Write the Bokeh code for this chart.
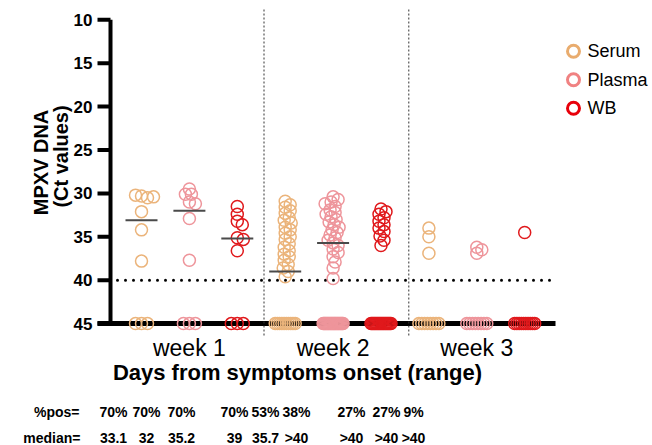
import math
from bokeh.plotting import figure
from bokeh.models import Range1d
from bokeh.core.properties import value
from bokeh.embed import file_html
from bokeh.resources import INLINE

# ---------------- data ----------------
groups = ["week 1", "week 2", "week 3"]
sample_types = ["Serum", "Plasma", "WB"]

serum_w1 = [30.3, 30.5, 30.2, 30.4, 32.1, 34.2, 37.8, 45, 45, 45]
plasma_w1 = [29.5, 30.1, 30.1, 31.0, 31.2, 32.9, 37.7, 45, 45, 45]
wb_w1 = [31.5, 32.4, 33.2, 33.6, 35.1, 35.3, 36.6, 45, 45, 45]

serum_w2 = [30.9, 31.3, 31.6, 32.0, 32.3, 32.8, 33.1, 33.4, 33.9, 34.2, 34.6, 35.0,
            35.3, 35.8, 36.2, 36.6, 37.0, 37.3, 37.7, 38.2, 38.6, 39.0, 39.6,
            45, 45, 45, 45, 45, 45, 45, 45, 45, 45]
plasma_w2 = [30.4, 30.7, 31.0, 31.2, 31.5, 31.9, 32.2, 32.4, 32.7, 33.0, 33.3, 33.6,
             33.9, 34.2, 34.5, 34.8, 35.1, 35.4, 35.7, 36.0, 36.4, 36.8, 37.3, 37.9,
             38.6, 39.8,
             45, 45, 45, 45, 45, 45, 45, 45, 45, 45, 45, 45, 45, 45, 45, 45, 45, 45,
             45, 45, 45, 45, 45]
wb_w2 = [31.8, 32.1, 32.4, 32.8, 33.2, 33.6, 34.0, 34.4, 34.9, 35.4, 36.0,
         45, 45, 45, 45, 45, 45, 45, 45, 45, 45, 45, 45, 45, 45, 45, 45, 45, 45]

serum_w3 = [34.0, 35.0, 36.9, 45, 45, 45, 45, 45, 45, 45, 45]
plasma_w3 = [36.2, 36.5, 36.9, 45, 45, 45, 45, 45, 45, 45, 45]
wb_w3 = [34.5, 45, 45, 45, 45, 45, 45, 45, 45, 45, 45]

series = [serum_w1, plasma_w1, wb_w1, serum_w2, plasma_w2, wb_w2, serum_w3, plasma_w3, wb_w3]

medians = [33.1, 32, 35.2, 39, 35.7, None, None, None, None]
pos_labels = ["70%", "70%", "70%", "70%", "53%", "38%", "27%", "27%", "9%"]
median_labels = ["33.1", "32", "35.2", "39", "35.7", ">40", ">40", ">40", ">40"]

y_ticks = [10, 15, 20, 25, 30, 35, 40, 45]
detection_limit = 40

colors = {"Serum": "#EBB47B", "Plasma": "#EE959B", "WB": "#E0191C"}
leg_colors = ["#E9AC6E", "#F08282", "#E8000B"]

# ---------------- geometry (page pixels) ----------------
W, H = 652, 445
PX = 47.9          # px per category step
PY = 8.68          # px per Ct unit
X0_PX = 141        # page px of category 0
Y10_PX = 19.3      # page px of Ct = 10


def px_x(real_px):
    return (real_px - X0_PX) / PX


def px_y(real_py):
    return 10 + (real_py - Y10_PX) / PY


p = figure(width=W, height=H, output_backend="svg", toolbar_location=None,
           x_axis_location=None, y_axis_location=None, tools="",
           x_range=Range1d(px_x(0), px_x(W)), y_range=Range1d(px_y(H), px_y(0)),
           min_border=0)
p.grid.visible = False
p.outline_line_color = None
p.background_fill_color = "white"
p.border_fill_color = "white"

FONT = value("Liberation Sans")

# y axis: line, ticks, labels
ax_x = px_x(110)
p.segment(x0=[ax_x], y0=[10], x1=[ax_x], y1=[45], line_color="black", line_width=4)
p.segment(x0=[px_x(97)] * len(y_ticks), y0=y_ticks, x1=[ax_x] * len(y_ticks), y1=y_ticks,
          line_color="black", line_width=4)
p.text(x=[px_x(92)] * len(y_ticks), y=y_ticks, text=[str(t) for t in y_ticks],
       text_font=FONT, text_font_style="bold", text_font_size="17px",
       text_align="right", text_baseline="middle", text_color="black")
p.text(x=[px_x(40), px_x(60)], y=[px_y(162), px_y(156)], text=["MPXV DNA", "(Ct values)"],
       angle=math.pi / 2, text_font=FONT, text_font_style="bold", text_font_size="20px",
       text_align="center", text_baseline="middle", text_color="black")

# x axis line
p.segment(x0=[px_x(97)], y0=[45], x1=[px_x(555)], y1=[45], line_color="black", line_width=5)

# detection limit dotted line
p.segment(x0=[px_x(117)], y0=[detection_limit], x1=[px_x(553)], y1=[detection_limit],
          line_color="black", line_width=3, line_dash="0 8", line_cap="round")

# group dividers
for dx in [263.5, 408.3]:
    p.segment(x0=[px_x(dx)], y0=[px_y(9)], x1=[px_x(dx)], y1=[px_y(337)], line_color="#333333",
              line_width=1, line_dash="2 2")


def swarm(vals, xc):
    D = 5.5
    placed = []
    xs = []
    n = sum(1 for v in vals if v >= 45)
    w = min(6 * (n - 1), 20) if n > 1 else 0
    ni = 0
    for v in vals:
        if v >= 45:
            off = -w / 2 + (w * ni / (n - 1) if n > 1 else 0)
            ni += 1
            xs.append(xc + off / PX)
            continue
        yp = v * PY
        chosen = 0
        for k in range(0, 200):
            c = (k + 1) // 2 * (1 if k % 2 == 1 else -1)
            if all((c - a) ** 2 + (yp - b) ** 2 >= D * D for a, b in placed):
                chosen = c
                break
        placed.append((chosen, yp))
        xs.append(xc + chosen / PX)
    return xs


for i, vals in enumerate(series):
    st = sample_types[i % 3]
    xs = swarm(vals, i)
    p.scatter(x=xs, y=vals, marker="circle", size=12, fill_color=None,
              line_color=colors[st], line_width=1.5)
    if medians[i] is not None:
        hw = 16 / PX
        p.segment(x0=[i - hw], y0=[medians[i]], x1=[i + hw], y1=[medians[i]],
                  line_color="#4a4a4a", line_width=2)

# week labels
p.text(x=[1, 4, 7], y=[px_y(347)] * 3, text=groups,
       text_font=FONT, text_font_size="23px",
       text_align="center", text_baseline="middle", text_color="black")
p.text(x=[px_x(297)], y=[px_y(372)], text=["Days from symptoms onset (range)"],
       text_font=FONT, text_font_style="bold", text_font_size="22px",
       text_align="center", text_baseline="middle", text_color="black")

# table rows
col_px = [113, 146, 181, 234, 265, 296, 351, 386, 413]
col_x = [px_x(c) for c in col_px]
row1_y = px_y(411)
row2_y = px_y(437)
TS = "14px"
p.text(x=[px_x(79)], y=[row1_y], text=["%pos="], text_font=FONT, text_font_style="bold",
       text_font_size=TS, text_align="right", text_baseline="middle", text_color="black")
p.text(x=[px_x(80)], y=[row2_y], text=["median="], text_font=FONT, text_font_style="bold",
       text_font_size=TS, text_align="right", text_baseline="middle", text_color="black")
p.text(x=col_x, y=[row1_y] * 9, text=pos_labels, text_font=FONT, text_font_style="bold",
       text_font_size=TS, text_align="center", text_baseline="middle", text_color="black")
p.text(x=col_x, y=[row2_y] * 9, text=median_labels, text_font=FONT, text_font_style="bold",
       text_font_size=TS, text_align="center", text_baseline="middle", text_color="black")

# legend
leg_y = [px_y(yy) for yy in [50.7, 79.3, 107.7]]
p.scatter(x=[px_x(573)] * 3, y=leg_y, marker="circle", size=12, fill_color=None,
          line_color=leg_colors, line_width=3)
p.text(x=[px_x(587)] * 3, y=leg_y, text=sample_types, text_font=FONT,
       text_font_size="18px", text_align="left", text_baseline="middle", text_color="black")

open("out.html", "w").write(file_html(p, INLINE))
